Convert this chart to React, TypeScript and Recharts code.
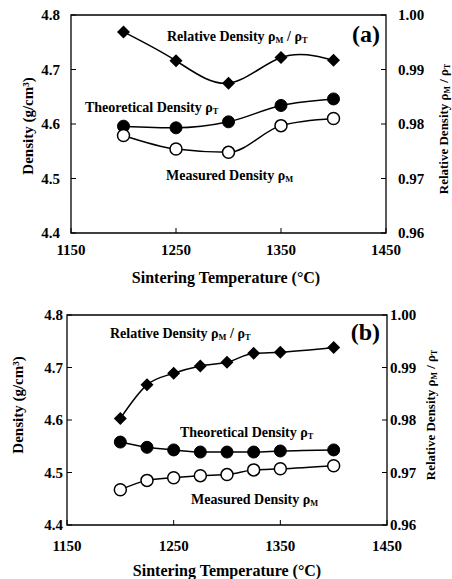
import { ComposedChart, Line, XAxis, YAxis, ReferenceArea } from "recharts";

// Panel (a): samples sintered at five temperatures
const tempsA = [1200, 1250, 1300, 1350, 1400];
const relativeA = [0.9969, 0.9916, 0.9875, 0.9922, 0.9917];
const theoreticalA = [4.596, 4.593, 4.604, 4.634, 4.646];
const measuredA = [4.579, 4.554, 4.548, 4.597, 4.61];

// Panel (b): finer temperature steps
const tempsB = [1200, 1225, 1250, 1275, 1300, 1325, 1350, 1400];
const relativeB = [0.9803, 0.9867, 0.9889, 0.9903, 0.991, 0.9927, 0.9929, 0.9938];
const theoreticalB = [4.558, 4.548, 4.543, 4.539, 4.539, 4.539, 4.541, 4.543];
const measuredB = [4.467, 4.485, 4.49, 4.494, 4.496, 4.505, 4.507, 4.513];

const tempTicks = [1150, 1250, 1350, 1450];
const densityTicks = [4.4, 4.5, 4.6, 4.7, 4.8];
const relTicks = [0.96, 0.97, 0.98, 0.99, 1.0];

const FONT = '"Liberation Serif", "Times New Roman", serif';
const W = 452;

type Pos = { x: number; y: number };
type PanelProps = {
  tag: string;
  height: number;
  temps: number[];
  relative: number[];
  theoretical: number[];
  measured: number[];
  relCurve: "natural" | "monotone";
  plot: { left: number; right: number; top: number; bottom: number };
  gaps: { left: number; right: number; bottom: number };
  yTitle: Pos;
  rTitle: Pos;
  xTitle: Pos;
  relNote: Pos;
  theoNote: Pos;
  measNote: Pos;
  tagPos: Pos;
};

const Diamond = (props: any) => {
  const { cx, cy, index } = props;
  if (cx == null || cy == null) return <g key={index} />;
  const s = 6.5;
  return (
    <polygon
      key={index}
      points={`${cx},${cy - s} ${cx + s},${cy} ${cx},${cy + s} ${cx - s},${cy}`}
      fill="#000"
    />
  );
};

const rho = (sub: string, size: number) => (
  <>
    <tspan>ρ</tspan>
    <tspan dy={size * 0.3} fontSize={size * 0.6}>
      {sub}
    </tspan>
    <tspan dy={-size * 0.3}> </tspan>
  </>
);

function Panel(p: PanelProps) {
  const data = p.temps.map((t, i) => ({
    t,
    rel: p.relative[i],
    theo: p.theoretical[i],
    meas: p.measured[i],
  }));

  const leftTick = ({ x, y, payload }: any) => {
    const ax = x + p.gaps.left;
    return (
      <g>
        <line x1={ax} x2={ax + 5} y1={y} y2={y} stroke="#000" />
        <text x={x} y={y} textAnchor="end" dominantBaseline="central" fontFamily={FONT} fontWeight="bold" fontSize={15}>
          {Number(payload.value).toFixed(1)}
        </text>
      </g>
    );
  };
  const rightTick = ({ x, y, payload }: any) => {
    const ax = x - p.gaps.right;
    return (
      <g>
        <line x1={ax} x2={ax - 5} y1={y} y2={y} stroke="#000" />
        <text x={x} y={y} textAnchor="start" dominantBaseline="central" fontFamily={FONT} fontWeight="bold" fontSize={15}>
          {Number(payload.value).toFixed(2)}
        </text>
      </g>
    );
  };
  const bottomTick = ({ x, y, payload }: any) => {
    const ay = y - p.gaps.bottom;
    return (
      <g>
        <line x1={x} x2={x} y1={ay} y2={ay - 5} stroke="#000" />
        <text x={x} y={y} textAnchor="middle" dominantBaseline="central" fontFamily={FONT} fontWeight="bold" fontSize={15}>
          {payload.value}
        </text>
      </g>
    );
  };

  const txt = { fontFamily: FONT, fontWeight: "bold" as const, dominantBaseline: "central" as const };

  return (
    <div style={{ position: "relative", width: W, height: p.height }}>
      <ComposedChart
        width={W}
        height={p.height}
        data={data}
        margin={{ top: p.plot.top, right: 0, bottom: 0, left: 0 }}
      >
        <XAxis
          dataKey="t"
          type="number"
          domain={[1150, 1450]}
          ticks={tempTicks}
          height={p.height - p.plot.bottom}
          axisLine={false}
          tickLine={false}
          tickSize={0}
          tickMargin={p.gaps.bottom}
          tick={bottomTick}
        />
        <YAxis
          yAxisId="d"
          domain={[4.4, 4.8]}
          ticks={densityTicks}
          width={p.plot.left}
          axisLine={false}
          tickLine={false}
          tickSize={0}
          tickMargin={p.gaps.left}
          tick={leftTick}
        />
        <YAxis
          yAxisId="r"
          orientation="right"
          domain={[0.96, 1.0]}
          ticks={relTicks}
          width={W - p.plot.right}
          axisLine={false}
          tickLine={false}
          tickSize={0}
          tickMargin={p.gaps.right}
          tick={rightTick}
        />
        <ReferenceArea
          yAxisId="d"
          x1={1150}
          x2={1450}
          y1={4.4}
          y2={4.8}
          fill="none"
          stroke="#000"
          strokeWidth={1.3}
        />
        <Line
          yAxisId="r"
          dataKey="rel"
          type={p.relCurve}
          stroke="#000"
          strokeWidth={1.5}
          dot={Diamond}
          isAnimationActive={false}
        />
        <Line
          yAxisId="d"
          dataKey="theo"
          type="monotone"
          stroke="#000"
          strokeWidth={1.5}
          dot={{ r: 6, fill: "#000", stroke: "#000", strokeWidth: 1 }}
          isAnimationActive={false}
        />
        <Line
          yAxisId="d"
          dataKey="meas"
          type="monotone"
          stroke="#000"
          strokeWidth={1.5}
          dot={{ r: 6, fill: "#fff", stroke: "#000", strokeWidth: 1.5 }}
          isAnimationActive={false}
        />
      </ComposedChart>
      <svg
        width={W}
        height={p.height}
        style={{ position: "absolute", left: 0, top: 0, pointerEvents: "none" }}
      >
        <text
          {...txt}
          x={p.yTitle.x}
          y={p.yTitle.y}
          fontSize={15}
          textAnchor="middle"
          transform={`rotate(-90 ${p.yTitle.x} ${p.yTitle.y})`}
        >
          Density (g/cm³)
        </text>
        <text
          {...txt}
          x={p.rTitle.x}
          y={p.rTitle.y}
          fontSize={13}
          textAnchor="middle"
          transform={`rotate(-90 ${p.rTitle.x} ${p.rTitle.y})`}
        >
          Relative Density {rho("M", 13)}/ {rho("T", 13)}
        </text>
        <text {...txt} x={p.xTitle.x} y={p.xTitle.y} fontSize={16} textAnchor="middle">
          Sintering Temperature (°C)
        </text>
        <text {...txt} x={p.relNote.x} y={p.relNote.y} fontSize={14}>
          Relative Density {rho("M", 14)}/ {rho("T", 14)}
        </text>
        <text {...txt} x={p.theoNote.x} y={p.theoNote.y} fontSize={14}>
          Theoretical Density {rho("T", 14)}
        </text>
        <text {...txt} x={p.measNote.x} y={p.measNote.y} fontSize={14}>
          Measured Density {rho("M", 14)}
        </text>
        <text {...txt} x={p.tagPos.x} y={p.tagPos.y} fontSize={24} textAnchor="end">
          {p.tag}
        </text>
      </svg>
    </div>
  );
}

export default function App() {
  return (
    <div style={{ position: "absolute", left: 0, top: 0, width: W, height: 579, background: "#fff" }}>
      <Panel
        tag="(a)"
        height={290}
        temps={tempsA}
        relative={relativeA}
        theoretical={theoreticalA}
        measured={measuredA}
        relCurve="natural"
        plot={{ left: 71, right: 386, top: 15, bottom: 233 }}
        gaps={{ left: 11, right: 12, bottom: 17 }}
        yTitle={{ x: 28, y: 126 }}
        rTitle={{ x: 443, y: 129 }}
        xTitle={{ x: 226, y: 277 }}
        relNote={{ x: 167, y: 36 }}
        theoNote={{ x: 85, y: 107 }}
        measNote={{ x: 166, y: 175 }}
        tagPos={{ x: 380, y: 34 }}
      />
      <Panel
        tag="(b)"
        height={289}
        temps={tempsB}
        relative={relativeB}
        theoretical={theoreticalB}
        measured={measuredB}
        relCurve="monotone"
        plot={{ left: 67, right: 387, top: 25, bottom: 235 }}
        gaps={{ left: 4, right: 3, bottom: 21 }}
        yTitle={{ x: 18, y: 115 }}
        rTitle={{ x: 430, y: 125 }}
        xTitle={{ x: 227, y: 280 }}
        relNote={{ x: 110, y: 43 }}
        theoNote={{ x: 180, y: 142 }}
        measNote={{ x: 191, y: 209 }}
        tagPos={{ x: 380, y: 42 }}
      />
    </div>
  );
}
